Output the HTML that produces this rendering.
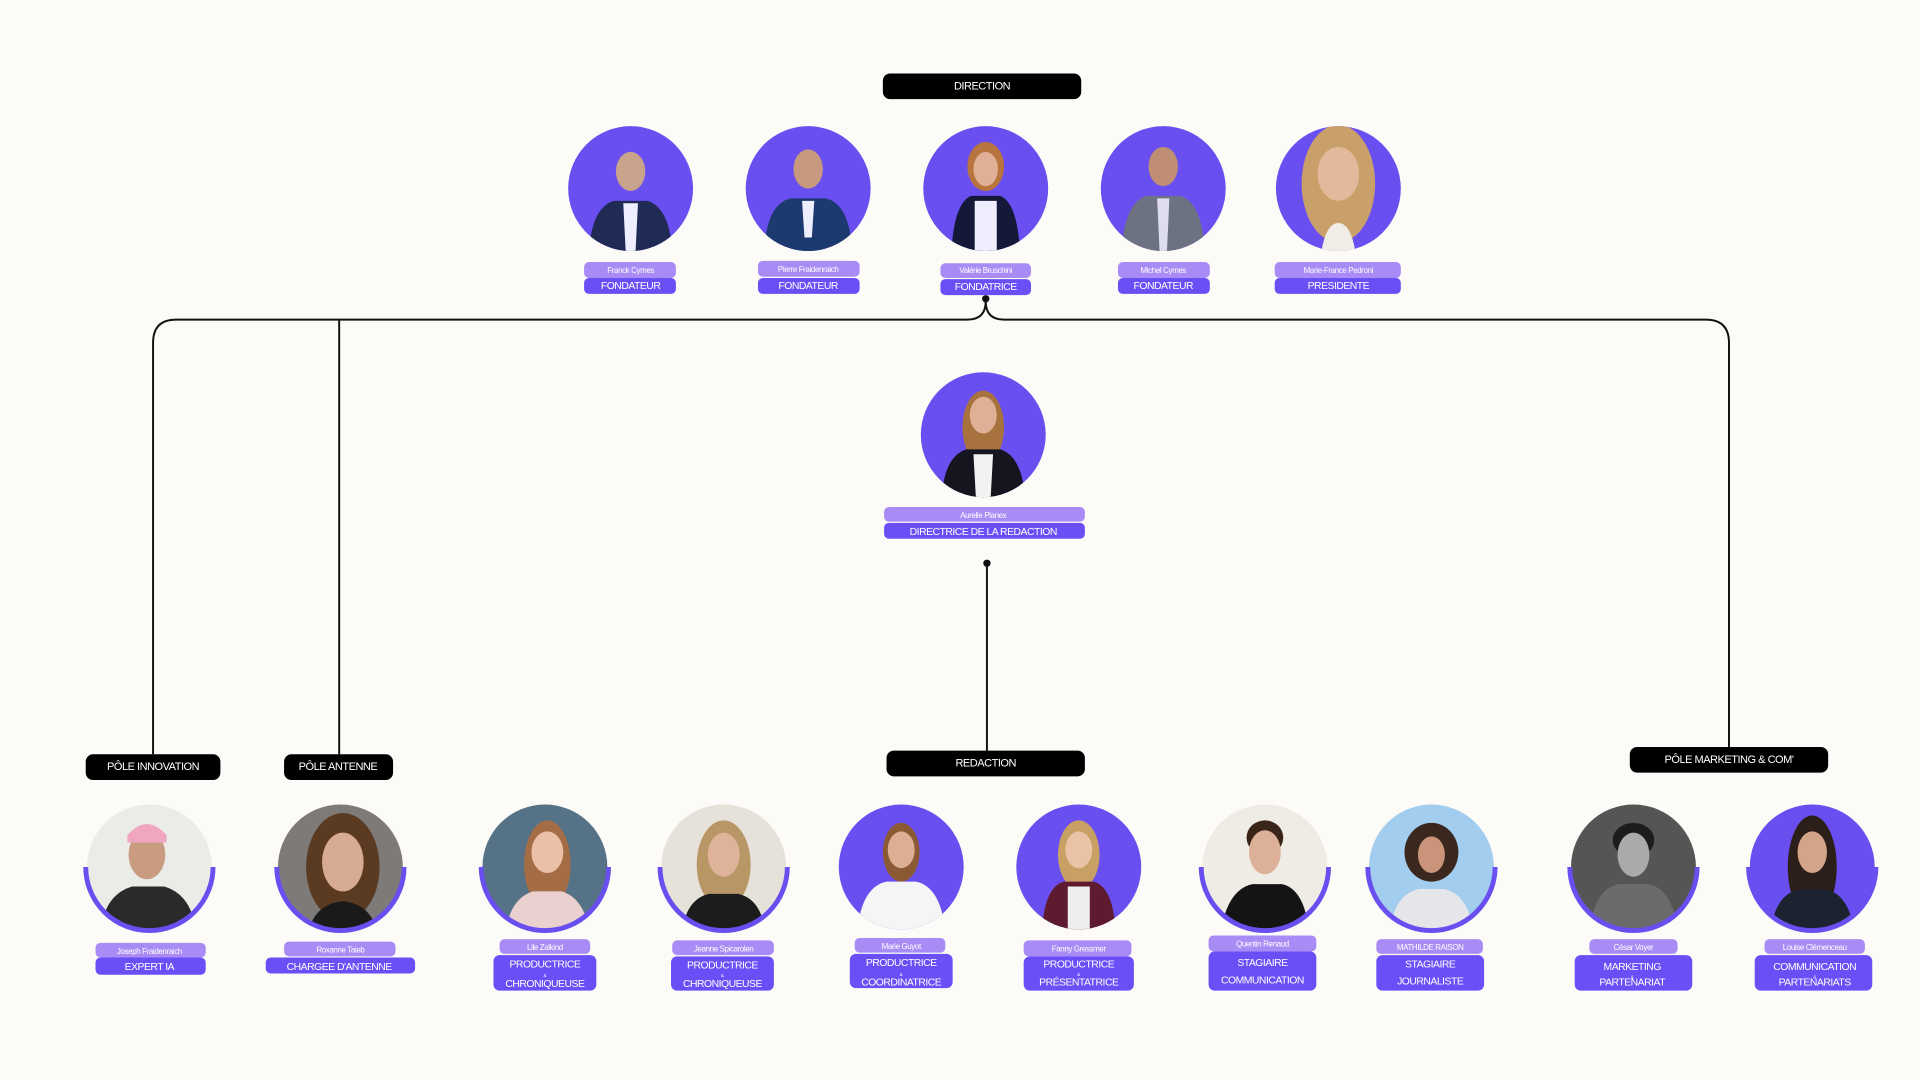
<!DOCTYPE html>
<html><head><meta charset="utf-8"><style>
html,body{margin:0;padding:0;background:#fdfbf8;}
svg{display:block;}
text{font-family:"Liberation Sans",sans-serif;}
</style></head><body>
<svg width="1920" height="1080" viewBox="0 0 1568 882" preserveAspectRatio="none" xmlns="http://www.w3.org/2000/svg">
<defs>
<clipPath id="c" clipPathUnits="userSpaceOnUse"><circle cx="0" cy="0" r="51"/></clipPath>
</defs>
<rect width="1568" height="882" fill="#fdfbf8"/>

<!-- connectors -->
<g fill="none" stroke="#111" stroke-width="1.6">
<path d="M125,616 V280 Q125,261 144,261 H790 Q805,261 805,246"/>
<path d="M805,246 Q805,261 820,261 H1393 Q1412,261 1412,280 V610"/>
<path d="M277,261 V616"/>
<path d="M806,460 V613"/>
</g>
<circle cx="805" cy="244" r="3" fill="#111"/>
<circle cx="806" cy="460" r="3" fill="#111"/>

<!-- black headers -->
<g fill="#000">
<rect x="721" y="60" width="162" height="21" rx="6"/>
<rect x="70" y="616" width="110" height="21" rx="6"/>
<rect x="232" y="616" width="89" height="21" rx="6"/>
<rect x="724" y="613" width="162" height="21" rx="6"/>
<rect x="1331" y="610" width="162" height="21" rx="6"/>
</g>
<g fill="#fff" font-size="9" text-anchor="middle" letter-spacing="-0.4">
<text x="802" y="73">DIRECTION</text>
<text x="125" y="629">PÔLE INNOVATION</text>
<text x="276" y="629">PÔLE ANTENNE</text>
<text x="805" y="626">REDACTION</text>
<text x="1412" y="623">PÔLE MARKETING &amp; COM'</text>
</g>

<!-- people: top row -->
<g transform="translate(515,154)"><g clip-path="url(#c)"><rect x="-60" y="-60" width="120" height="120" fill="#6a4ff0"/><ellipse cx="0" cy="-14" rx="12" ry="16" fill="#c9a38c"/><path d="M-34,52 Q-32,16 -14,10 L14,10 Q32,16 34,52Z" fill="#1f2a55"/><path d="M-6,12 L6,12 L4,52 L-4,52Z" fill="#eef"/></g></g>
<g transform="translate(660,154)"><g clip-path="url(#c)"><rect x="-60" y="-60" width="120" height="120" fill="#6a4ff0"/><ellipse cx="0" cy="-16" rx="12" ry="16" fill="#c79a80"/><path d="M-36,52 Q-34,12 -14,8 L14,8 Q34,12 36,52Z" fill="#1d3a70"/><path d="M-5,10 L5,10 L3,40 L-3,40Z" fill="#eef"/></g></g>
<g transform="translate(805,154)"><g clip-path="url(#c)"><rect x="-60" y="-60" width="120" height="120" fill="#6a4ff0"/><ellipse cx="0" cy="-18" rx="15" ry="20" fill="#b8743e"/><ellipse cx="0" cy="-16" rx="10" ry="14" fill="#e0b096"/><path d="M-28,52 Q-26,12 -12,6 L12,6 Q26,12 28,52Z" fill="#14193a"/><path d="M-9,10 L9,10 L9,52 L-9,52Z" fill="#eef"/></g></g>
<g transform="translate(950,154)"><g clip-path="url(#c)"><rect x="-60" y="-60" width="120" height="120" fill="#6a4ff0"/><ellipse cx="0" cy="-18" rx="12" ry="16" fill="#c08f73"/><path d="M-34,52 Q-32,12 -14,6 L14,6 Q32,12 34,52Z" fill="#6c7282"/><path d="M-5,8 L5,8 L3,52 L-3,52Z" fill="#dde"/></g></g>
<g transform="translate(1093,154)"><g clip-path="url(#c)"><rect x="-60" y="-60" width="120" height="120" fill="#6a4ff0"/><ellipse cx="0" cy="-4" rx="30" ry="48" fill="#c9a06a"/><ellipse cx="0" cy="-12" rx="17" ry="22" fill="#e3b99c"/><path d="M-14,52 Q-10,28 0,28 Q10,28 14,52Z" fill="#f0ece6"/></g></g>

<!-- middle -->
<g transform="translate(803,355)"><g clip-path="url(#c)"><rect x="-60" y="-60" width="120" height="120" fill="#6a4ff0"/><ellipse cx="0" cy="-6" rx="17" ry="30" fill="#a8723e"/><ellipse cx="0" cy="-16" rx="11" ry="15" fill="#e0b096"/><path d="M-34,52 Q-32,18 -14,12 L14,12 Q32,18 34,52Z" fill="#151520"/><path d="M-8,16 L8,16 L6,52 L-6,52Z" fill="#f2f2f2"/></g></g>

<!-- bottom row -->
<g transform="translate(122,708)"><g clip-path="url(#c)"><rect x="-60" y="-60" width="120" height="120" fill="#ebebe8"/><ellipse cx="-2" cy="-10" rx="15" ry="20" fill="#c99c82"/><path d="M-18,-26 Q-2,-44 14,-26 L14,-20 L-18,-20Z" fill="#f0a6c0"/><path d="M-40,52 Q-36,22 -14,16 L12,16 Q34,22 38,52Z" fill="#2a2a2a"/></g><path d="M-52,0 A52,52 0 0 0 52,0" fill="none" stroke="#6a4ff0" stroke-width="4"/></g>
<g transform="translate(278,708)"><g clip-path="url(#c)"><rect x="-60" y="-60" width="120" height="120" fill="#7e7a78"/><ellipse cx="2" cy="0" rx="30" ry="44" fill="#5b3a22"/><ellipse cx="2" cy="-4" rx="17" ry="24" fill="#d7ab92"/><path d="M-26,52 Q-20,30 2,28 Q24,30 30,52Z" fill="#1a1a1a"/></g><path d="M-52,0 A52,52 0 0 0 52,0" fill="none" stroke="#6a4ff0" stroke-width="4"/></g>
<g transform="translate(445,708)"><g clip-path="url(#c)"><rect x="-60" y="-60" width="120" height="120" fill="#557286"/><ellipse cx="2" cy="-2" rx="19" ry="36" fill="#a56d45"/><ellipse cx="2" cy="-12" rx="13" ry="17" fill="#ebc0a8"/><path d="M-32,52 Q-28,26 -10,20 L14,20 Q32,26 36,52Z" fill="#ead0cf"/></g><path d="M-52,0 A52,52 0 0 0 52,0" fill="none" stroke="#6a4ff0" stroke-width="4"/></g>
<g transform="translate(591,708)"><g clip-path="url(#c)"><rect x="-60" y="-60" width="120" height="120" fill="#e6e2da"/><ellipse cx="0" cy="-2" rx="22" ry="36" fill="#b89666"/><ellipse cx="0" cy="-10" rx="13" ry="18" fill="#dfb39a"/><path d="M-34,52 Q-30,26 -12,22 L12,22 Q30,26 34,52Z" fill="#1c1c1c"/></g><path d="M-52,0 A52,52 0 0 0 52,0" fill="none" stroke="#6a4ff0" stroke-width="4"/></g>
<g transform="translate(736,708)"><g clip-path="url(#c)"><rect x="-60" y="-60" width="120" height="120" fill="#6a4ff0"/><ellipse cx="0" cy="-12" rx="15" ry="24" fill="#8b5a35"/><ellipse cx="0" cy="-14" rx="11" ry="15" fill="#dcae94"/><path d="M-36,52 Q-32,16 -12,12 L12,12 Q32,16 36,52Z" fill="#f5f5f5"/></g></g>
<g transform="translate(881,708)"><g clip-path="url(#c)"><rect x="-60" y="-60" width="120" height="120" fill="#6a4ff0"/><ellipse cx="0" cy="-10" rx="17" ry="28" fill="#c9a064"/><ellipse cx="0" cy="-14" rx="11" ry="15" fill="#eac2a6"/><path d="M-30,52 Q-28,16 -12,12 L12,12 Q28,16 30,52Z" fill="#5e1a2e"/><path d="M-9,16 L9,16 L9,52 L-9,52Z" fill="#eee"/></g></g>
<g transform="translate(1033,708)"><g clip-path="url(#c)"><rect x="-60" y="-60" width="120" height="120" fill="#efece6"/><ellipse cx="0" cy="-24" rx="15" ry="14" fill="#3a2618"/><ellipse cx="0" cy="-12" rx="13" ry="18" fill="#dcb099"/><path d="M-36,52 Q-30,18 -10,14 L14,14 Q32,18 36,52Z" fill="#141414"/></g><path d="M-52,0 A52,52 0 0 0 52,0" fill="none" stroke="#6a4ff0" stroke-width="4"/></g>
<g transform="translate(1169,708)"><g clip-path="url(#c)"><rect x="-60" y="-60" width="120" height="120" fill="#a3cdee"/><ellipse cx="0" cy="-12" rx="22" ry="24" fill="#3a281e"/><ellipse cx="0" cy="-10" rx="11" ry="15" fill="#c99479"/><path d="M-34,52 Q-30,22 -10,18 L10,18 Q30,22 34,52Z" fill="#e4e6ea"/></g><path d="M-52,0 A52,52 0 0 0 52,0" fill="none" stroke="#6a4ff0" stroke-width="4"/></g>
<g transform="translate(1334,708)"><g clip-path="url(#c)"><rect x="-60" y="-60" width="120" height="120" fill="#555"/><ellipse cx="0" cy="-22" rx="17" ry="14" fill="#1c1c1c"/><ellipse cx="0" cy="-10" rx="13" ry="18" fill="#aaa"/><path d="M-36,52 Q-32,18 -12,14 L12,14 Q32,18 36,52Z" fill="#6b6b6b"/></g><path d="M-52,0 A52,52 0 0 0 52,0" fill="none" stroke="#6a4ff0" stroke-width="4"/></g>
<g transform="translate(1480,708)"><g clip-path="url(#c)"><rect x="-60" y="-60" width="120" height="120" fill="#6a4ff0"/><ellipse cx="0" cy="0" rx="20" ry="42" fill="#2c1e18"/><ellipse cx="0" cy="-12" rx="12" ry="17" fill="#d3a489"/><path d="M-34,52 Q-30,22 -10,18 L10,18 Q30,22 34,52Z" fill="#1c2230"/></g><path d="M-52,0 A52,52 0 0 0 52,0" fill="none" stroke="#6a4ff0" stroke-width="4"/></g>

<!-- name pills -->
<g fill="#a98bf5">
<rect x="477" y="214" width="75" height="13" rx="4"/>
<rect x="619" y="213" width="83" height="13" rx="4"/>
<rect x="768" y="215" width="74" height="12" rx="4"/>
<rect x="913" y="214" width="75" height="13" rx="4"/>
<rect x="1041" y="214" width="103" height="13" rx="4"/>
<rect x="722" y="414" width="164" height="12" rx="4"/>
<rect x="78" y="770" width="90" height="12" rx="4"/>
<rect x="232" y="769" width="91" height="12" rx="4"/>
<rect x="408" y="767" width="74" height="12" rx="4"/>
<rect x="549" y="768" width="83" height="12" rx="4"/>
<rect x="698" y="766" width="74" height="12" rx="4"/>
<rect x="836" y="768" width="88" height="13" rx="4"/>
<rect x="987" y="764" width="88" height="13" rx="4"/>
<rect x="1124" y="767" width="87" height="12" rx="4"/>
<rect x="1298" y="767" width="72" height="12" rx="4"/>
<rect x="1441" y="767" width="82" height="12" rx="4"/>
</g>
<!-- role pills -->
<g fill="#6a4ff6">
<rect x="477" y="227" width="75" height="13" rx="4"/>
<rect x="619" y="227" width="83" height="13" rx="4"/>
<rect x="768" y="228" width="74" height="13" rx="4"/>
<rect x="913" y="227" width="75" height="13" rx="4"/>
<rect x="1041" y="227" width="103" height="13" rx="4"/>
<rect x="722" y="427" width="164" height="13" rx="4"/>
<rect x="78" y="782" width="90" height="14" rx="4"/>
<rect x="217" y="782" width="122" height="13" rx="4"/>
<rect x="403" y="780" width="84" height="29" rx="5"/>
<rect x="548" y="781" width="84" height="28" rx="5"/>
<rect x="694" y="779" width="84" height="28" rx="5"/>
<rect x="836" y="781" width="90" height="28" rx="5"/>
<rect x="987" y="777" width="88" height="32" rx="5"/>
<rect x="1124" y="780" width="88" height="29" rx="5"/>
<rect x="1286" y="780" width="96" height="29" rx="5"/>
<rect x="1433" y="780" width="96" height="29" rx="5"/>
</g>
<g fill="#fff" font-size="6.5" text-anchor="middle" letter-spacing="-0.3">
<text x="515" y="223">Franck Cymes</text>
<text x="660" y="222">Pierre Fraidenraich</text>
<text x="805" y="223">Valérie Bruschini</text>
<text x="950" y="223">Michel Cymes</text>
<text x="1093" y="223">Marie-France Pedroni</text>
<text x="803" y="423">Aurelie Planex</text>
<text x="122" y="779">Joseph Fraidenraich</text>
<text x="278" y="778">Roxanne Taieb</text>
<text x="445" y="776">Lile Zalkind</text>
<text x="591" y="777">Jeanne Spicarolen</text>
<text x="736" y="775">Marie Guyot</text>
<text x="881" y="777">Fanny  Gressmer</text>
<text x="1031" y="773">Quentin Renaud</text>
<text x="1168" y="776">MATHILDE RAISON</text>
<text x="1334" y="776">César Voyer</text>
<text x="1482" y="776">Louise Clémenceau</text>
</g>
<g fill="#fff" font-size="8.5" text-anchor="middle" letter-spacing="-0.4">
<text x="515" y="236">FONDATEUR</text>
<text x="660" y="236">FONDATEUR</text>
<text x="805" y="237">FONDATRICE</text>
<text x="950" y="236">FONDATEUR</text>
<text x="1093" y="236">PRESIDENTE</text>
<text x="803" y="437">DIRECTRICE DE LA REDACTION</text>
<text x="122" y="792">EXPERT IA</text>
<text x="277" y="792">CHARGEE D'ANTENNE</text>
<text x="445" y="790">PRODUCTRICE</text><text x="445" y="806">CHRONIQUEUSE</text>
<text x="590" y="791">PRODUCTRICE</text><text x="590" y="806">CHRONIQUEUSE</text>
<text x="736" y="789">PRODUCTRICE</text><text x="736" y="805">COORDINATRICE</text>
<text x="881" y="790">PRODUCTRICE</text><text x="881" y="805">PRÉSENTATRICE</text>
<text x="1031" y="789">STAGIAIRE</text><text x="1031" y="803">COMMUNICATION</text>
<text x="1168" y="790">STAGIAIRE</text><text x="1168" y="804">JOURNALISTE</text>
<text x="1333" y="792">MARKETING</text><text x="1333" y="805">PARTENARIAT</text>
<text x="1482" y="792">COMMUNICATION</text><text x="1482" y="805">PARTENARIATS</text>
</g>
<g fill="#fff" font-size="3.5" text-anchor="middle">
<text x="445" y="798">&amp;</text><text x="590" y="798">&amp;</text><text x="736" y="797">&amp;</text><text x="881" y="797">&amp;</text><text x="1333" y="799">&amp;</text><text x="1482" y="799">&amp;</text>
</g>
</svg>
</body></html>
